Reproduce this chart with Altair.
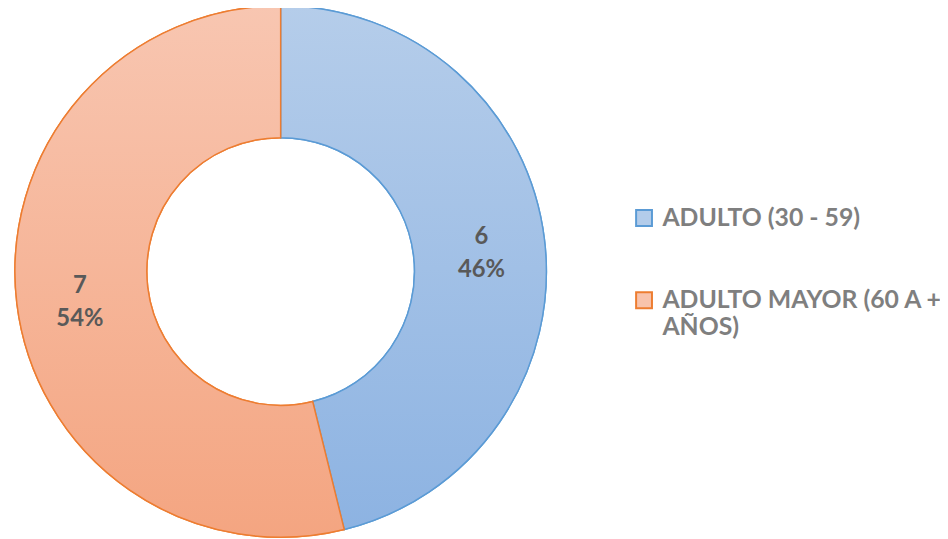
import altair as alt
import pandas as pd

categories = ["ADULTO (30 - 59)", "ADULTO MAYOR (60 A + AÑOS)"]
values = [6, 7]
legend_fill = ["#B3CCEA", "#F8C3AC"]
stroke_colors = ["#5B9BD5", "#ED7D31"]
grad_blue = ["#B5CDEA", "#8DB3E2"]
grad_orange = ["#F8C6B1", "#F4A581"]

total = sum(values)
pcts = [round(v * 100 / total) for v in values]
df = pd.DataFrame({
    "cat": categories,
    "value": values,
    "order": list(range(len(categories))),
    "label": [f"{v}\n{p}%" for v, p in zip(values, pcts)],
})


def grad(c):
    return {"gradient": "linear", "x1": 0, "y1": 0, "x2": 0, "y2": 1,
            "stops": [{"offset": 0, "color": c[0]}, {"offset": 1, "color": c[1]}]}


CX, CY, R_OUT, R_IN = 275, 263.5, 268, 135

legend = alt.Legend(
    orient="none", legendX=629, legendY=197, title=None,
    symbolType="square", symbolSize=256, symbolStrokeWidth=2,
    labelFont="Lato", labelFontSize=25, labelFontWeight="bold",
    labelColor="#7F7F7F", labelLimit=400, labelOffset=6, rowPadding=57,
    labelExpr=f"datum.label == '{categories[1]}' ? ['ADULTO MAYOR (60 A +', 'AÑOS)'] : datum.label",
)

base = alt.Chart(df).encode(
    theta=alt.Theta("value:Q", stack=True),
    order=alt.Order("order:Q"),
    x=alt.value(CX), y=alt.value(CY),
)

arc_legend = base.mark_arc(radius=R_OUT, radius2=R_IN, strokeWidth=1.5).encode(
    fill=alt.Fill("cat:N", scale=alt.Scale(domain=categories, range=legend_fill), legend=legend),
    stroke=alt.Stroke("cat:N", scale=alt.Scale(domain=categories, range=stroke_colors), legend=legend),
)

test = f"datum.cat == '{categories[0]}'"
arc_grad = base.mark_arc(radius=R_OUT, radius2=R_IN, strokeWidth=1.5).encode(
    fill=alt.condition(test, alt.value(grad(grad_blue)), alt.value(grad(grad_orange))),
    stroke=alt.condition(test, alt.value(stroke_colors[0]), alt.value(stroke_colors[1])),
)

labels = base.mark_text(radius=204, font="Lato", fontSize=24, fontWeight="bold",
                        color="#595959", lineBreak="\n", lineHeight=33, dy=-10).encode(
    text="label:N"
)

chart = alt.layer(arc_legend, arc_grad, labels).properties(
    width=940, height=531, autosize=alt.AutoSizeParams(type="none"), padding=0
).configure(background="white").configure_view(stroke=None)

chart.save("out.html", embed_options={"renderer": "svg", "actions": False})
